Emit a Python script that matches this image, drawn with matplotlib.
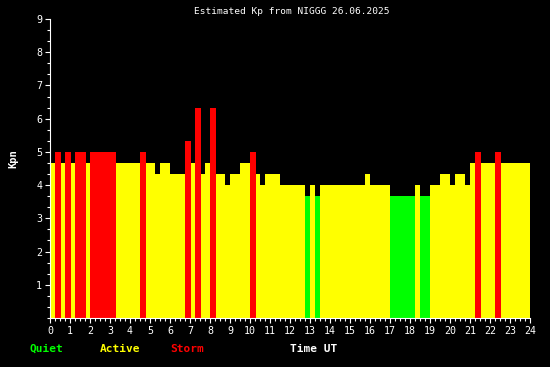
import matplotlib
matplotlib.use("Agg")
import matplotlib.pyplot as plt
import numpy as np

# Kp estimates in 15-minute steps, 26.06.2025 (96 values)
kp_values = [
    4.67, 5.0, 4.67, 5.0, 4.67, 5.0, 5.0, 4.67,      # 00-02
    5.0, 5.0, 5.0, 5.0, 5.0, 4.67, 4.67, 4.67,       # 02-04
    4.67, 4.67, 5.0, 4.67, 4.67, 4.33, 4.67, 4.67,   # 04-06
    4.33, 4.33, 4.33, 5.33, 4.67, 6.33, 4.33, 4.67,  # 06-08
    6.33, 4.33, 4.33, 4.0, 4.33, 4.33, 4.67, 4.67,   # 08-10
    5.0, 4.33, 4.0, 4.33, 4.33, 4.33, 4.0, 4.0,      # 10-12
    4.0, 4.0, 4.0, 3.67, 4.0, 3.67, 4.0, 4.0,        # 12-14
    4.0, 4.0, 4.0, 4.0, 4.0, 4.0, 4.0, 4.33,         # 14-16
    4.0, 4.0, 4.0, 4.0, 3.67, 3.67, 3.67, 3.67,      # 16-18
    3.67, 4.0, 3.67, 3.67, 4.0, 4.0, 4.33, 4.33,     # 18-20
    4.0, 4.33, 4.33, 4.0, 4.67, 5.0, 4.67, 4.67,     # 20-22
    4.67, 5.0, 4.67, 4.67, 4.67, 4.67, 4.67, 4.67,   # 22-24
]
step_hours = 0.25
x_ticks = list(range(0, 25))
y_ticks = list(range(1, 10))

QUIET = '#00ff00'
ACTIVE = '#ffff00'
STORM = '#ff0000'


def kp_color(v):
    if v < 4:
        return QUIET
    if v < 5:
        return ACTIVE
    return STORM


kp = np.array(kp_values)
t = np.arange(len(kp)) * step_hours
colors = [kp_color(v) for v in kp]

fig = plt.figure(figsize=(5.5, 3.67), dpi=100, facecolor='black')
ax = fig.add_axes([50 / 550, 49 / 367, 480 / 550, 299 / 367])
ax.set_facecolor('black')

# non-storm bars first, storm bars on top and a bit wider like the original
normal = kp < 5
ax.bar(t[normal], kp[normal], width=step_hours, align='edge',
       color=[c for c, n in zip(colors, normal) if n], linewidth=0)
ax.bar(t[~normal], kp[~normal], width=step_hours * 1.2, align='edge',
       color=STORM, linewidth=0)

ax.set_xlim(0, 24)
ax.set_ylim(0, 9)
ax.set_xticks(x_ticks)
ax.set_xticks(np.arange(0, 24.01, 0.25), minor=True)
ax.set_yticks(y_ticks)
ax.set_yticks(np.arange(0, 9.01, 1 / 3), minor=True)

mono = 'DejaVu Sans Mono'
ax.set_xticklabels([str(v) for v in x_ticks], family=mono, fontsize=7.2, color='white')
ax.set_yticklabels([str(v) for v in y_ticks], family=mono, fontsize=7.2, color='white')
ax.tick_params(which='major', length=3.6, width=0.8, color='white', pad=2)
ax.tick_params(which='minor', length=2.2, width=0.8, color='white')

for side in ['top', 'right']:
    ax.spines[side].set_visible(False)
for side in ['left', 'bottom']:
    ax.spines[side].set_color('white')
    ax.spines[side].set_linewidth(0.8)

fig.text(292 / 550, 1 - 12 / 367, 'Estimated Kp from NIGGG 26.06.2025',
         family=mono, fontsize=6.8, color='white', ha='center', va='center')
fig.text(13 / 550, 1 - 159 / 367, 'Kpn', family=mono, fontsize=7.5,
         fontweight='bold', color='white', rotation=90, ha='center', va='center')

legend_items = [('Quiet', QUIET, 30), ('Active', ACTIVE, 100), ('Storm', STORM, 170),
                ('Time UT', 'white', 290)]
for label, col, xpos in legend_items:
    fig.text(xpos / 550, 1 - 349 / 367, label, family=mono, fontsize=8,
             fontweight='bold', color=col, ha='left', va='center')

fig.savefig('out.png', dpi=100, facecolor='black')
